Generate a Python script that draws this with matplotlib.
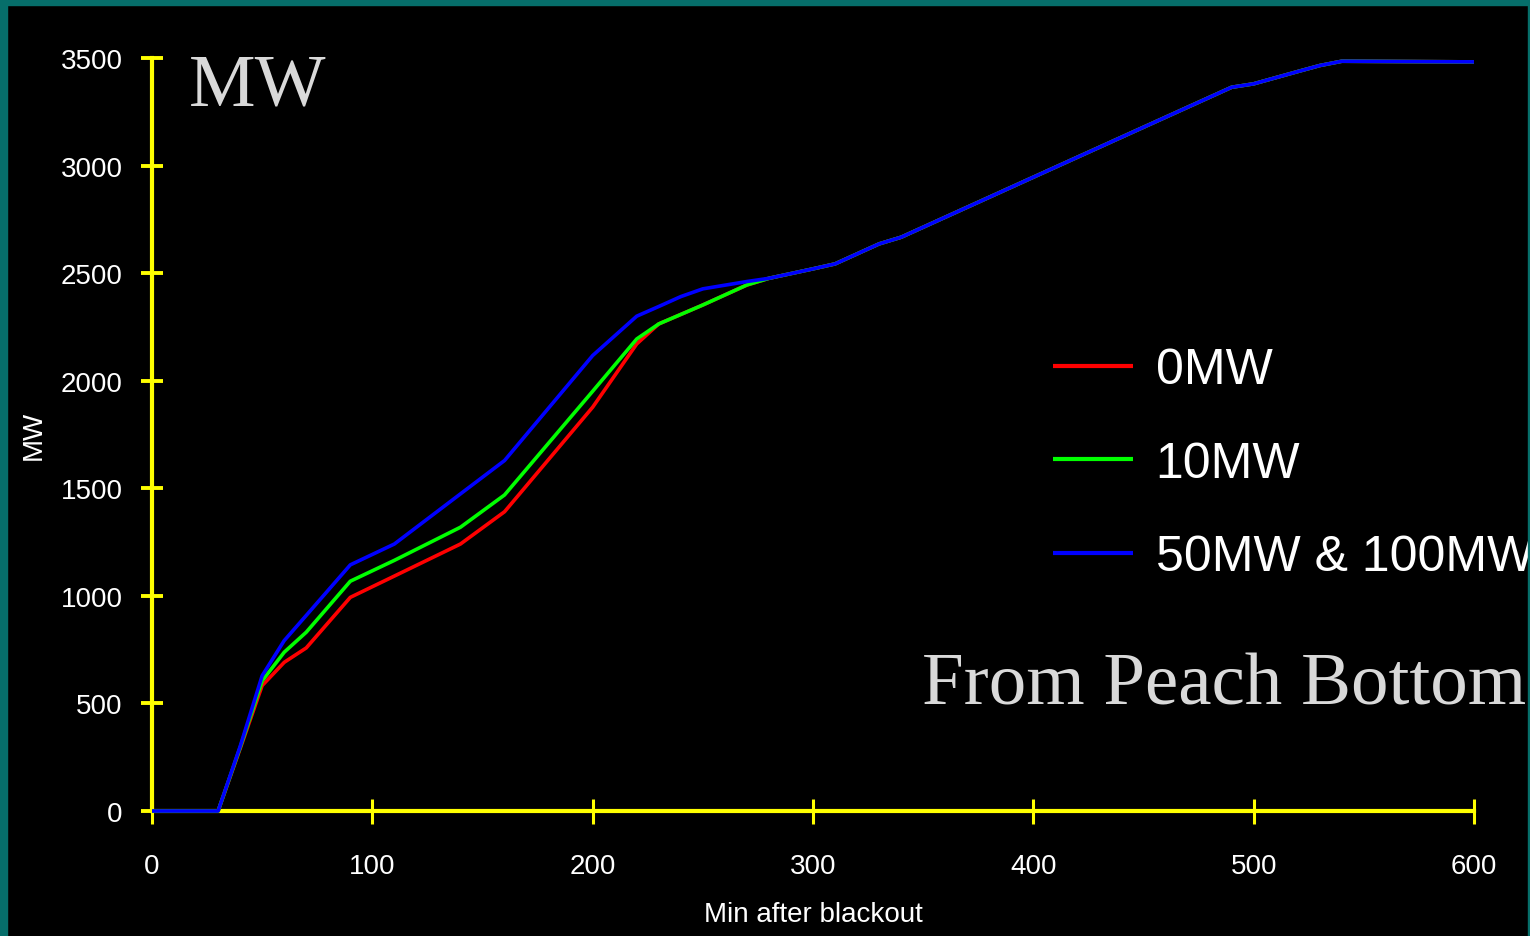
import matplotlib
matplotlib.use('Agg')
import matplotlib.pyplot as plt
from matplotlib.patches import Rectangle

# data
minutes = [0, 30, 40, 50, 60, 70, 90, 110, 140, 160, 200, 220, 230, 240, 250,
           270, 280, 300, 310, 330, 340, 400, 490, 500, 520, 530, 540, 600]
tail = [2476, 2520, 2543, 2636, 2667, 2946, 3364, 3380, 3437, 3465, 3485, 3482]
mw_0 = [0, 0, 290, 583, 691, 758, 993, 1092, 1241, 1391, 1877, 2171, 2264, 2308,
        2352, 2445] + tail
mw_10 = [0, 0, 295, 605, 738, 831, 1068, 1165, 1319, 1469, 1951, 2194, 2264, 2308,
         2352, 2445] + tail
mw_50_100 = [0, 0, 300, 629, 792, 909, 1144, 1241, 1474, 1629, 2117, 2300, 2345,
             2391, 2427, 2461] + tail
series = [('0MW', mw_0, '#FF0000'),
          ('10MW', mw_10, '#00FF00'),
          ('50MW & 100MW', mw_50_100, '#0000FF')]
x_ticks = [0, 100, 200, 300, 400, 500, 600]
y_ticks = [0, 500, 1000, 1500, 2000, 2500, 3000, 3500]

W, H = 1530, 937
plt.rcParams['font.family'] = ['Liberation Sans', 'DejaVu Sans']

fig = plt.figure(figsize=(W / 100, H / 100), dpi=100, facecolor='black')
ax = fig.add_axes([152 / W, 1 - 812 / H, (1474 - 152) / W, (812 - 59) / H])
ax.set_facecolor('black')

for label, vals, col in series:
    ax.plot(minutes, vals, color=col, lw=2.6, label=label, clip_on=False,
            solid_capstyle='butt', zorder=3)

ax.set_xlim(0, 600)
ax.set_ylim(0, 3500)
ax.set_xticks(x_ticks)
ax.set_yticks(y_ticks)

for side in ['top', 'right']:
    ax.spines[side].set_visible(False)
for side in ['left', 'bottom']:
    ax.spines[side].set_color('#FFFF00')
    ax.spines[side].set_linewidth(3)
    ax.spines[side].set_zorder(2)

ax.tick_params(axis='y', direction='inout', length=16, width=2.8, color='#FFFF00',
               labelcolor='white', labelsize=20, pad=13)
ax.tick_params(axis='x', direction='inout', length=18, width=2.2, color='#FFFF00',
               labelcolor='white', labelsize=20, pad=21)

ax.set_xlabel('Min after blackout', color='white', fontsize=20, labelpad=16)
ax.set_ylabel('MW', color='white', fontsize=20, labelpad=10)

leg = ax.legend(loc='upper left', bbox_to_anchor=((1053 - 152) / (1474 - 152), (812 - 348) / (812 - 59)),
                frameon=False, prop={'family': 'Liberation Sans', 'size': 36},
                handlelength=1.6, handletextpad=0.45,
                labelspacing=0.95, borderaxespad=0, borderpad=0)
for t in leg.get_texts():
    t.set_color('white')
for h in leg.get_lines():
    h.set_linewidth(3)

fig.text(189 / W, 1 - 106 / H, 'MW', fontsize=54, color='#D9D9D9',
         family='Liberation Serif', ha='left', va='baseline')
fig.text(922 / W, 1 - 705 / H, 'From Peach Bottom', fontsize=54, color='#D9D9D9',
         family='Liberation Serif', ha='left', va='baseline')

# teal slide frame (cropped on the bottom)
teal = '#066E6A'
fig.add_artist(Rectangle((0, 1 - 6 / H), 1, 6 / H, transform=fig.transFigure,
                         color=teal, zorder=20))
fig.add_artist(Rectangle((0, 0), 7 / W, 1, transform=fig.transFigure,
                         color=teal, zorder=20))
fig.add_artist(Rectangle((1 - 2 / W, 0), 2 / W, 1, transform=fig.transFigure,
                         color=teal, zorder=20))

fig.savefig('out.png', dpi=100, facecolor='black')
